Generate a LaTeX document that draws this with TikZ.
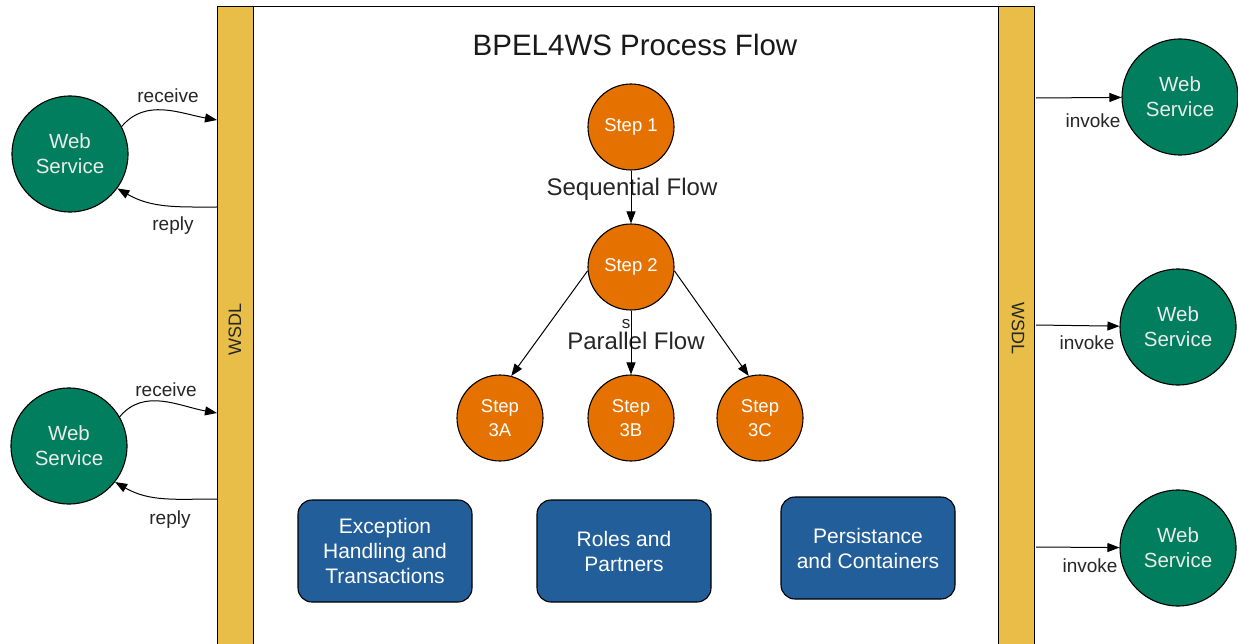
\documentclass[tikz,border=0pt]{standalone}
\usepackage{fontspec}
\setmainfont{Liberation Sans}
\usetikzlibrary{arrows.meta}
\definecolor{wsgreen}{RGB}{0,126,94}
\definecolor{steporange}{RGB}{229,114,0}
\definecolor{wsdlyellow}{RGB}{232,190,72}
\definecolor{boxblue}{RGB}{34,94,153}
\definecolor{labelgray}{RGB}{38,38,38}
\begin{document}
\begin{tikzpicture}[x=1pt,y=-1pt,
 ws/.style={circle, draw=black, line width=1.1pt, fill=wsgreen, minimum size=116pt, inner sep=0pt, text=white!92!black, align=center, font=\fontsize{20.5}{25}\selectfont},
 stepnode/.style={circle, draw=black, line width=1.1pt, fill=steporange, minimum size=86pt, inner sep=0pt, text=white, align=center, font=\fontsize{18.5}{24}\selectfont},
 topic/.style={rounded corners=14pt, draw=black, line width=1.1pt, fill=boxblue, minimum width=174pt, minimum height=102pt, inner sep=0pt, text=white, align=center, font=\fontsize{21}{25}\selectfont},
 wsdl/.style={draw=black, line width=1.2pt, fill=wsdlyellow, minimum width=36pt, minimum height=660pt, anchor=north west, inner sep=0pt},
 wsdltext/.style={text=labelgray, font=\fontsize{18}{20}\selectfont, inner sep=0pt},
 lbl/.style={text=labelgray, font=\fontsize{19}{22}\selectfont, inner sep=0pt},
 flowlbl/.style={text=labelgray, font=\fontsize{24}{28}\selectfont, inner sep=0pt},
 arr/.style={draw=black, line width=1pt, -{Triangle[length=12pt,width=9pt]}},
]
\useasboundingbox (0,0) rectangle (1238,644);
\clip (0,0) rectangle (1238,644);
\fill[white] (0,0) rectangle (1238,644);

% main process box and WSDL bars
\node[draw=black, line width=1.4pt, fill=white, minimum width=745pt, minimum height=660pt, anchor=north west, inner sep=0pt] (main) at (253,6) {};
\node[wsdl] (lbar) at (217,6) {};
\node[wsdl] (rbar) at (998,6) {};
\node[wsdltext, rotate=90] (lwsdl) at (235,329) {WSDL};
\node[wsdltext, rotate=-90] (rwsdl) at (1018,329) {WSDL};

% title
\node[text=black!90, font=\fontsize{29.5}{32}\selectfont, inner sep=0pt] (title) at (635,45) {BPEL4WS Process Flow};

% steps
\node[stepnode] (s1) at (631,127) {Step 1};
\node[stepnode] (s2) at (631,267) {Step 2};
\node[stepnode] (s3a) at (500,418) {Step\\3A};
\node[stepnode] (s3b) at (631,418) {Step\\3B};
\node[stepnode] (s3c) at (760,418) {Step\\3C};

\node[flowlbl] (seq) at (632,189) {Sequential Flow};
\node[flowlbl] (par) at (636,341) {Parallel Flow};
\node[text=labelgray, font=\fontsize{17}{20}\selectfont, inner sep=0pt] (smalls) at (626,324) {s};

\draw[arr] (s1) -- (s2);
\draw[arr] (s2.185) -- (s3a.75);
\draw[arr] (s2) -- (s3b);
\draw[arr] (s2.-5) -- (s3c.105);

% topic boxes
\node[topic] (exc) at (385,551) {Exception\\Handling and\\Transactions};
\node[topic] (roles) at (624,551) {Roles and\\Partners};
\node[topic] (pers) at (868,548) {Persistance\\and Containers};

% left web services
\node[ws] (lws1) at (70,154) {Web\\Service};
\node[ws] (lws2) at (69,446) {Web\\Service};
\coordinate (lr1) at (217,120);
\coordinate (lp1) at (217,207);
\coordinate (lr2) at (217,413);
\coordinate (lp2) at (217,499);

\draw[arr] (lws1.28) to[out=50,in=170] (lr1);
\draw[arr] (lp1) to[out=180,in=-30] (lws1.-36);
\draw[arr] (lws2.30) to[out=50,in=170] (lr2);
\draw[arr] (lp2) to[out=180,in=-30] (lws2.-38);

\node[lbl] (rec1) at (168,96) {receive};
\node[lbl] (rep1) at (173,226) {reply};
\node[lbl] (rec2) at (166,390) {receive};
\node[lbl] (rep2) at (170,520) {reply};

% right web services
\node[ws] (rws1) at (1180,97) {Web\\Service};
\node[ws] (rws2) at (1178,327) {Web\\Service};
\node[ws] (rws3) at (1178,548) {Web\\Service};
\coordinate (ri1) at (1036,98);
\coordinate (ri2) at (1036,325);
\coordinate (ri3) at (1036,547);

\draw[arr] (ri1) -- (rws1);
\draw[arr] (ri2) -- (rws2);
\draw[arr] (ri3) -- (rws3);

\node[lbl] (inv1) at (1093,121) {invoke};
\node[lbl] (inv2) at (1087,343) {invoke};
\node[lbl] (inv3) at (1090,566) {invoke};
\end{tikzpicture}
\end{document}
